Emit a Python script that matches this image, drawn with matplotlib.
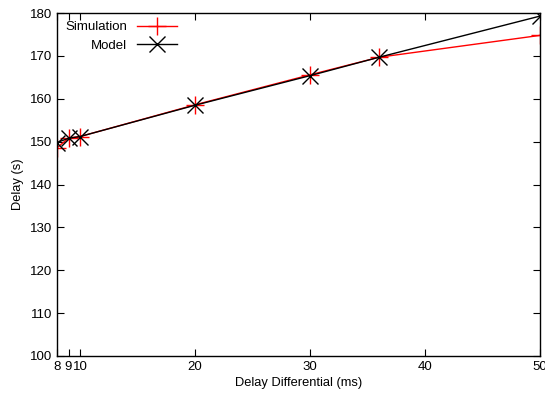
import matplotlib
matplotlib.use("Agg")
import matplotlib.pyplot as plt

# delay differential (ms)
delay_diff = [8, 9, 10, 20, 30, 36, 50]
sim_delay = [148.6, 150.8, 151.2, 158.6, 165.6, 169.7, 174.8]
model_delay = [149.8, 150.8, 151.2, 158.5, 165.4, 169.7, 179.3]

x_ticks = [8, 9, 10, 20, 30, 40, 50]
y_ticks = [100, 110, 120, 130, 140, 150, 160, 170, 180]

plt.rcParams['font.family'] = ['Liberation Sans', 'DejaVu Sans']

fig = plt.figure(figsize=(5.45, 3.97), dpi=100)
ax = fig.add_axes([0.1046, 0.1033, 0.8862, 0.8637])

ax.plot(delay_diff, sim_delay, color="red", lw=1.0, marker="+",
        markersize=13, markeredgewidth=1.0, label="Simulation")
ax.plot(delay_diff, model_delay, color="black", lw=1.0, marker="x",
        markersize=12, markeredgewidth=1.0, label="Model")

ax.set_xlim(8, 50)
ax.set_ylim(100, 180)
ax.set_xticks(x_ticks)
ax.set_xticklabels(["8", "9", "10", "20", "30", "40", "50"])
ax.set_yticks(y_ticks)
ax.tick_params(direction="in", top=True, right=True, labelsize=9.5,
               length=5, width=0.8)
ax.set_xlabel("Delay Differential (ms)", fontsize=9.3, labelpad=3)
ax.set_ylabel("Delay (s)", fontsize=9.3, labelpad=4)
for s in ax.spines.values():
    s.set_linewidth(1.0)

ax.legend(loc="upper left", frameon=False, markerfirst=False, fontsize=9.5,
          handlelength=3.0, borderaxespad=0.2, labelspacing=0.5,
          bbox_to_anchor=(0.0, 1.0))

fig.savefig("out.png", dpi=100)
plt.close(fig)
